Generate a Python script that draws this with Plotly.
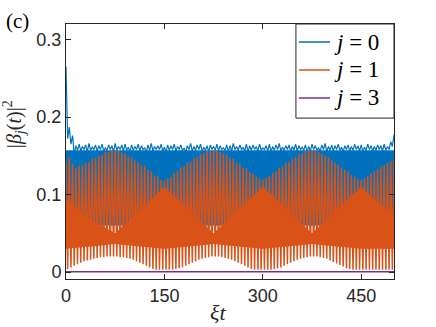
import numpy as np
import plotly.graph_objects as go

# sample times: peaks of the fast oscillation every 5, troughs half way between
t_pk = np.arange(0, 501, 5)
t_tr = t_pk[:-1] + 2.5

# j=0, peaks and troughs
blue_pk = [0.265, 0.187, 0.176, 0.163, 0.165, 0.162, 0.164, 0.166, 0.161, 0.164,
           0.163, 0.165, 0.160, 0.164, 0.163, 0.166, 0.162, 0.164, 0.165, 0.161,
           0.164, 0.162, 0.165, 0.163, 0.160, 0.164, 0.166, 0.162, 0.163, 0.165,
           0.161, 0.164, 0.163, 0.165, 0.162, 0.164, 0.160, 0.163, 0.166, 0.162,
           0.164, 0.165, 0.161, 0.163, 0.164, 0.162, 0.165, 0.163, 0.160, 0.164,
           0.163, 0.166, 0.162, 0.164, 0.161, 0.165, 0.163, 0.164, 0.162, 0.165,
           0.160, 0.163, 0.165, 0.162, 0.164, 0.166, 0.161, 0.163, 0.164, 0.162,
           0.165, 0.163, 0.161, 0.164, 0.162, 0.165, 0.163, 0.160, 0.164, 0.166,
           0.162, 0.164, 0.163, 0.165, 0.161, 0.163, 0.164, 0.162, 0.165, 0.163,
           0.164, 0.161, 0.165, 0.163, 0.162, 0.164, 0.163, 0.165, 0.162, 0.168,
           0.177]
blue_tr = [0.172, 0.165, 0.152, 0.157, 0.156, 0.158, 0.155, 0.157, 0.158, 0.156,
           0.158, 0.156, 0.157, 0.158, 0.155, 0.157, 0.158, 0.156, 0.157, 0.155,
           0.157, 0.158, 0.156, 0.158, 0.155, 0.157, 0.156, 0.158, 0.158, 0.156,
           0.155, 0.157, 0.158, 0.156, 0.158, 0.157, 0.155, 0.158, 0.156, 0.157,
           0.158, 0.156, 0.157, 0.155, 0.158, 0.157, 0.156, 0.158, 0.157, 0.155,
           0.156, 0.158, 0.157, 0.158, 0.156, 0.155, 0.157, 0.158, 0.156, 0.157,
           0.158, 0.156, 0.155, 0.157, 0.158, 0.156, 0.157, 0.158, 0.155, 0.157,
           0.156, 0.158, 0.157, 0.155, 0.156, 0.158, 0.157, 0.156, 0.158, 0.155,
           0.157, 0.156, 0.158, 0.157, 0.155, 0.158, 0.156, 0.157, 0.158, 0.156,
           0.155, 0.157, 0.158, 0.156, 0.157, 0.158, 0.156, 0.157, 0.158, 0.162]
# dense blue body
t_blue_band = [0, 50, 100, 150, 200, 250, 300, 350, 400, 450, 500]
blue_band_hi = [0.157, 0.157, 0.157, 0.157, 0.157, 0.157, 0.157, 0.157, 0.157, 0.157, 0.157]
blue_band_lo = [0.060, 0.060, 0.060, 0.060, 0.060, 0.060, 0.060, 0.060, 0.060, 0.060, 0.060]

# j=1
orange_pk = [0.142, 0.148, 0.140, 0.134, 0.137, 0.138, 0.141, 0.142, 0.146, 0.147,
             0.150, 0.151, 0.155, 0.155, 0.157, 0.157, 0.156, 0.154, 0.153, 0.149,
             0.148, 0.144, 0.142, 0.138, 0.137, 0.132, 0.130, 0.125, 0.123, 0.119,
             0.118, 0.121, 0.123, 0.128, 0.130, 0.135, 0.136, 0.141, 0.142, 0.147,
             0.148, 0.152, 0.153, 0.156, 0.156, 0.157, 0.157, 0.155, 0.153, 0.151,
             0.147, 0.146, 0.141, 0.140, 0.135, 0.134, 0.129, 0.127, 0.123, 0.121,
             0.119, 0.122, 0.124, 0.128, 0.130, 0.135, 0.136, 0.141, 0.142, 0.146,
             0.148, 0.152, 0.153, 0.156, 0.156, 0.157, 0.157, 0.155, 0.153, 0.150,
             0.148, 0.144, 0.141, 0.139, 0.135, 0.132, 0.130, 0.125, 0.123, 0.120,
             0.119, 0.121, 0.124, 0.127, 0.130, 0.133, 0.136, 0.138, 0.141, 0.143,
             0.145]
orange_tr = [0.004, 0.006, 0.008, 0.010, 0.012, 0.014, 0.015, 0.016, 0.017, 0.018,
             0.019, 0.019, 0.020, 0.020, 0.020, 0.020, 0.019, 0.019, 0.018, 0.017,
             0.016, 0.014, 0.012, 0.010, 0.008, 0.006, 0.004, 0.003, 0.003, 0.003,
             0.003, 0.003, 0.003, 0.004, 0.005, 0.006, 0.008, 0.010, 0.012, 0.014,
             0.016, 0.017, 0.018, 0.019, 0.020, 0.020, 0.020, 0.019, 0.018, 0.017,
             0.016, 0.014, 0.012, 0.010, 0.008, 0.006, 0.004, 0.003, 0.003, 0.003,
             0.003, 0.003, 0.003, 0.004, 0.005, 0.006, 0.008, 0.010, 0.012, 0.014,
             0.016, 0.017, 0.018, 0.019, 0.020, 0.020, 0.020, 0.019, 0.018, 0.017,
             0.015, 0.013, 0.011, 0.009, 0.007, 0.005, 0.004, 0.003, 0.003, 0.003,
             0.003, 0.003, 0.003, 0.003, 0.003, 0.003, 0.003, 0.003, 0.003, 0.003]
# where the orange lines pile up into a solid area
t_orange_band = [0, 25, 50, 75, 100, 125, 150, 175, 200, 225, 250,
                 275, 300, 325, 350, 375, 400, 425, 450, 475, 500]
orange_band_hi = [0.095, 0.075, 0.062, 0.050, 0.070, 0.090, 0.110, 0.090, 0.070, 0.050, 0.070,
                  0.090, 0.110, 0.090, 0.070, 0.050, 0.070, 0.090, 0.110, 0.090, 0.072]
orange_band_lo = [0.030, 0.032, 0.034, 0.036, 0.034, 0.032, 0.030, 0.032, 0.034, 0.036, 0.034,
                  0.032, 0.030, 0.032, 0.034, 0.036, 0.034, 0.032, 0.030, 0.030, 0.030]

# j=3
t_purple = [0, 100, 200, 300, 400, 500]
purple = [0.0004, 0.0004, 0.0004, 0.0004, 0.0004, 0.0004]

labels = ['<i>j</i> = 0', '<i>j</i> = 1', '<i>j</i> = 3']

blue = '#0072BD'
orange = '#D95319'
purple_c = '#7E2F8E'
ink = '#262626'


def zigzag(pk, tr):
    x = np.empty(len(t_pk) + len(t_tr))
    y = np.empty_like(x)
    x[0::2] = t_pk
    x[1::2] = t_tr
    y[0::2] = pk
    y[1::2] = tr
    return x, y


def band(t, hi, lo, color):
    return go.Scatter(x=list(t) + list(t)[::-1], y=list(hi) + list(lo)[::-1],
                      fill='toself', fillcolor=color, mode='none',
                      showlegend=False, hoverinfo='skip')


bx, by = zigzag(blue_pk, blue_tr)
ox, oy = zigzag(orange_pk, orange_tr)

fig = go.Figure()
fig.add_trace(band(t_blue_band, blue_band_hi, blue_band_lo, blue))
fig.add_trace(go.Scatter(x=bx, y=by, mode='lines', line=dict(color=blue, width=1.2),
                         name=labels[0], showlegend=False))
fig.add_trace(band(t_orange_band, orange_band_hi, orange_band_lo, orange))
fig.add_trace(go.Scatter(x=ox, y=oy, mode='lines', line=dict(color=orange, width=1.5),
                         name=labels[1], showlegend=False))
fig.add_trace(go.Scatter(x=t_purple, y=purple, mode='lines', line=dict(color=purple_c, width=1.5),
                         name=labels[2], showlegend=False))

axis = dict(showline=True, linecolor=ink, linewidth=1, mirror='allticks',
            ticks='inside', ticklen=5, tickcolor=ink, showgrid=False, zeroline=False,
            tickfont=dict(family='Liberation Sans', size=18, color=ink))

# legend box drawn by hand, MATLAB style
shapes = [dict(type='rect', xref='paper', yref='paper', x0=0.701, x1=1.0, y0=0.631, y1=1.0,
               line=dict(color=ink, width=1), fillcolor='white', layer='above')]
annos = []
row_y = [0.929, 0.820, 0.710]
for lab, c, yy in zip(labels, [blue, orange, purple_c], row_y):
    shapes.append(dict(type='line', xref='paper', yref='paper', x0=0.710, x1=0.805,
                       y0=yy, y1=yy, line=dict(color=c, width=1.5), layer='above'))
    annos.append(dict(text=lab, xref='paper', yref='paper', x=0.812, y=yy,
                      xanchor='left', yanchor='middle', showarrow=False,
                      font=dict(family='Liberation Serif', size=23, color='black')))

annos += [
    dict(text='|<i>β<sub>j</sub></i>(<i>t</i>)|<sup>2</sup>', textangle=-90,
         xref='paper', yref='paper', x=-0.158, y=0.608, xanchor='center', yanchor='middle',
         showarrow=False, font=dict(family='Liberation Serif', size=20, color=ink)),
    dict(text='<i>ξt</i>', xref='paper', yref='paper', x=0.463, y=-0.13,
         xanchor='center', yanchor='middle',
         showarrow=False, font=dict(family='Liberation Serif', size=22, color=ink)),
    dict(text='(c)', xref='paper', yref='paper', x=-0.149, y=1.012,
         xanchor='center', yanchor='middle',
         showarrow=False, font=dict(family='Liberation Serif', size=21, color='black')),
]

fig.update_layout(
    width=436, height=327,
    margin=dict(l=66, r=42, t=24, b=48),
    paper_bgcolor='white', plot_bgcolor='white',
    xaxis=dict(axis, range=[0, 500], tickvals=[0, 150, 300, 450]),
    yaxis=dict(axis, range=[-0.009, 0.32], tickvals=[0, 0.1, 0.2, 0.3],
               ticktext=['0', '0.1', '0.2', '0.3']),
    shapes=shapes,
    annotations=annos,
)

# drop the default 8px page margin so the figure sits at the window corner
fig.write_html('out.html', config={'displayModeBar': False},
               post_script="document.body.style.margin='0';")
